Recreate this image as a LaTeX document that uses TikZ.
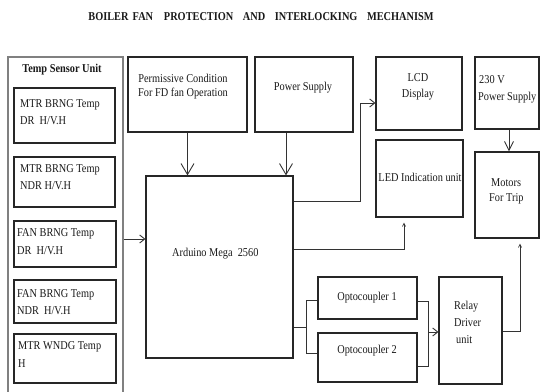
\documentclass[tikz,border=0pt]{standalone}
\usepackage{fontspec}
\setmainfont{Liberation Serif}[FakeStretch=0.86]
\usetikzlibrary{arrows.meta}
\begin{document}
\begin{tikzpicture}[x=1pt,y=-1pt,
  box/.style={draw=black!85, line width=1.2pt, inner sep=0pt},
  outerbox/.style={draw=black!50, line width=1.6pt, inner sep=0pt},
  txt/.style={inner sep=0pt, font=\fontsize{12}{16}\selectfont, text=black!90},
  ltxt/.style={txt, anchor=west},
  ctxt/.style={txt, anchor=center},
  conn/.style={draw=black!80, line width=0.9pt},
  bigarr/.style={conn, -{Straight Barb[length=11pt,width=13pt,line width=0.9pt]}},
  medarr/.style={conn, -{Straight Barb[length=9pt,width=9pt,line width=0.9pt]}},
  smallarr/.style={conn, -{Straight Barb[length=5pt,width=8pt,line width=0.9pt]}},
  tinyarr/.style={conn, -{Straight Barb[length=3pt,width=3pt,line width=0.7pt]}, shorten >=5pt}
]
\useasboundingbox (0,0) rectangle (540,391);

% title
\node[txt, font=\fontsize{12}{14}\selectfont\bfseries] (title) at (261,17)
  {BOILER\hspace{0.35em}FAN\hspace{0.9em}PROTECTION\hspace{0.8em}AND\hspace{0.8em}INTERLOCKING\hspace{0.8em}MECHANISM};

% temp sensor unit
\node[outerbox, minimum width=115pt, minimum height=338pt] (tsu) at (65.5,226) {};
\node[ctxt, font=\fontsize{12}{16}\selectfont\bfseries] (tsut) at (62,70) {Temp Sensor Unit};

\node[box, minimum width=101pt, minimum height=55pt] (s1) at (64.5,115.5) {};
\node[box, minimum width=101pt, minimum height=50pt] (s2) at (64.5,182) {};
\node[box, minimum width=102pt, minimum height=46pt] (s3) at (65,244) {};
\node[box, minimum width=102pt, minimum height=43pt] (s4) at (65,301.5) {};
\node[box, minimum width=102pt, minimum height=49pt] (s5) at (65,358.5) {};

\node[ltxt] (s1a) at (20,105) {MTR BRNG Temp};
\node[ltxt] (s1b) at (20,121) {DR\ \ H/V.H};
\node[ltxt] (s2a) at (20,170) {MTR BRNG Temp};
\node[ltxt] (s2b) at (20,186) {NDR H/V.H};
\node[ltxt] (s3a) at (17,234) {FAN BRNG Temp};
\node[ltxt] (s3b) at (17,251) {DR\ \ H/V.H};
\node[ltxt] (s4a) at (17,295) {FAN BRNG Temp};
\node[ltxt] (s4b) at (17,311) {NDR\ \ H/V.H};
\node[ltxt] (s5a) at (18,347) {MTR WNDG Temp};
\node[ltxt] (s5b) at (18,364) {H};

% permissive
\node[box, minimum width=119pt, minimum height=75pt] (perm) at (187.5,94.5) {};
\node[ctxt] (perma) at (183,78) {Permissive Condition};
\node[ctxt] (permb) at (183,94) {For FD fan Operation};

% arduino
\node[box, minimum width=147pt, minimum height=182pt] (ard) at (219.5,267) {};
\node[ltxt] (ardt) at (172,254) {Arduino Mega\ \ 2560};

% power supply
\node[box, minimum width=98pt, minimum height=75pt] (ps) at (304,94.5) {};
\node[ctxt] (pst) at (303,88) {Power Supply};

% LCD
\node[box, minimum width=86pt, minimum height=73pt] (lcd) at (419,93.5) {};
\node[ctxt] (lcda) at (418,78) {LCD};
\node[ctxt] (lcdb) at (418,95) {Display};

% LED
\node[box, minimum width=87pt, minimum height=77pt] (led) at (419.5,178.5) {};
\node[ctxt] (ledt) at (420,177) {LED Indication unit};

% 230 V
\node[box, minimum width=64pt, minimum height=72pt] (v230) at (507,93) {};
\node[ltxt] (v230a) at (479,80) {230 V};
\node[ltxt] (v230b) at (478,98) {Power Supply};

% motors
\node[box, minimum width=64pt, minimum height=86pt] (mot) at (507,195) {};
\node[ltxt] (mota) at (491,183) {Motors};
\node[ltxt] (motb) at (489,199) {For Trip};

% optocouplers
\node[box, minimum width=99pt, minimum height=42pt] (op1) at (367.5,298) {};
\node[ctxt] (op1t) at (367,298) {Optocoupler 1};
\node[box, minimum width=99pt, minimum height=49pt] (op2) at (367.5,357.5) {};
\node[ctxt] (op2t) at (367,351) {Optocoupler 2};

% relay
\node[box, minimum width=63pt, minimum height=107pt] (relay) at (470.5,330.5) {};
\node[ltxt] (rela) at (454,307) {Relay};
\node[ltxt] (relb) at (454,323) {Driver};
\node[ltxt] (relc) at (456,340) {unit};

% connectors
\draw[bigarr] (perm.south) -- (perm.south |- ard.north);
\draw[bigarr] ([xshift=-18pt]ps.south) -- ([xshift=-18pt]ps.south |- ard.north);
\draw[smallarr] (tsu.east |- 0,239) -- (ard.west |- 0,239);
\draw[smallarr] (ard.east |- 0,201) -| (360,103) -- (lcd.west |- 0,103);
\draw[tinyarr] (ard.east |- 0,249) -| ([xshift=-15.5pt]led.south);
\draw[medarr] ([xshift=2pt]v230.south) -- ([xshift=2pt]v230.south |- mot.north);

\coordinate (j1) at (306,327);
\coordinate (j2) at (428,332);
\draw[conn] (ard.east |- j1) -- (j1);
\draw[conn] (op1.west |- 0,300) -| (306,353) -- (op2.west |- 0,353);
\draw[conn] (op1.east |- 0,301) -| (428,366) -- (op2.east |- 0,366);
\draw[smallarr] (j2) -- (relay.west |- j2);
\draw[tinyarr] (relay.east |- 0,331) -| ([xshift=13pt]mot.south);
\end{tikzpicture}
\end{document}
